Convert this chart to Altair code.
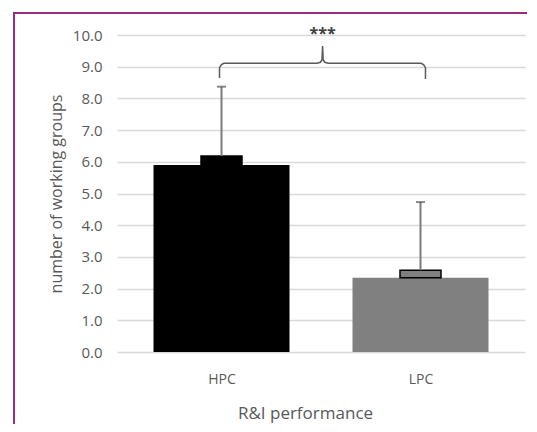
import altair as alt
import pandas as pd

groups = ["HPC", "LPC"]
means = [5.9, 2.34]
box_top = [6.18, 2.58]
err_top = [8.37, 4.73]
fills = ["#000000", "#808080"]

# bracket path in "category index" units (0 = HPC centre, 1 = LPC centre)
br_x = [-0.01, -0.01, 0.0, 0.012, 0.48, 0.497, 0.505, 0.508, 0.511, 0.519, 0.536, 1.003, 1.015, 1.025, 1.025]
br_y = [8.64, 8.97, 9.07, 9.11, 9.11, 9.14, 9.22, 9.65, 9.22, 9.14, 9.11, 9.11, 9.07, 8.97, 8.61]
star_label = "***"
star_x = [0.508]
star_y = [10.03]

df = pd.DataFrame({"idx": list(range(len(groups))), "group": groups, "mean": means,
                   "box": box_top, "err": err_top, "fill": fills})
br = pd.DataFrame({"i": list(range(len(br_x))), "x": br_x, "y": br_y})
st = pd.DataFrame({"x": star_x, "y": star_y, "t": [star_label]})

FONT = "Open Sans"
TXT = "#595959"

yscale = alt.Scale(domain=[0, 10], nice=False)
xscale = alt.Scale(domain=[-0.5, 1.5], nice=False, zero=False)

label_expr = "[" + ",".join("'%s'" % g for g in groups) + "][datum.value]"

yaxis = alt.Axis(title="number of working groups", values=list(range(11)), format=".1f",
                 domain=False, ticks=False, labelPadding=15, titlePadding=8,
                 labelOverlap=False, grid=True, gridColor="#d9d9d9", gridWidth=1.5,
                 labelFontSize=15, titleFontSize=16, labelColor=TXT, titleColor=TXT,
                 labelFont=FONT, titleFont=FONT, titleFontWeight="normal")
xaxis = alt.Axis(title="R&I performance", values=list(range(len(groups))), labelExpr=label_expr,
                 labelAngle=0, domain=False, ticks=False, grid=False,
                 labelPadding=20, titlePadding=19, labelFontSize=14, titleFontSize=17,
                 labelColor=TXT, titleColor=TXT, labelFont=FONT, titleFont=FONT,
                 titleFontWeight="normal", titleX=188, titleAnchor="middle")

xe = alt.X("idx:Q", scale=xscale, axis=xaxis)

bars = alt.Chart(df).mark_bar(orient="vertical", size=136).encode(
    x=xe,
    y=alt.Y("mean:Q", scale=yscale, axis=yaxis),
    y2=alt.datum(0),
    color=alt.Color("fill:N", scale=None),
)

boxes = alt.Chart(df).mark_bar(orient="vertical", size=41, stroke="#000000", strokeWidth=1.5).encode(
    x=xe,
    y=alt.Y("mean:Q", scale=yscale, axis=yaxis),
    y2="box:Q",
    color=alt.Color("fill:N", scale=None),
)

stems = alt.Chart(df).mark_rule(color="#7a7a7a", strokeWidth=2).encode(
    x=xe,
    y=alt.Y("box:Q", scale=yscale, axis=yaxis),
    y2="err:Q",
)

caps = alt.Chart(df).mark_tick(color="#595959", size=9, thickness=2, orient="horizontal").encode(
    x=xe,
    y=alt.Y("err:Q", scale=yscale, axis=yaxis),
)

bracket = alt.Chart(br).mark_line(color="#595959", strokeWidth=1.5).encode(
    x=alt.X("x:Q", scale=xscale, axis=xaxis),
    y=alt.Y("y:Q", scale=yscale, axis=yaxis),
    order="i:Q",
)

stars = alt.Chart(st).mark_text(font=FONT, fontSize=16, fontWeight="bold", color="#404040").encode(
    x=alt.X("x:Q", scale=xscale, axis=xaxis),
    y=alt.Y("y:Q", scale=yscale, axis=yaxis),
    text="t:N",
)

border = alt.Chart(df).mark_rect(fill=None, stroke="#9b2b7f", strokeWidth=2).encode(
    x=alt.value(-103), x2=alt.value(560), y=alt.value(-22), y2=alt.value(460)
)

chart = alt.layer(bars, boxes, stems, caps, bracket, stars, border).properties(
    width=408, height=317,
    background="white",
    autosize=alt.AutoSizeParams(type="none"),
    padding={"left": 109, "top": 27, "right": 2, "bottom": 72},
).configure_view(strokeWidth=0, stroke="transparent")

chart.save("out.html", embed_options={"renderer": "svg", "actions": False})
